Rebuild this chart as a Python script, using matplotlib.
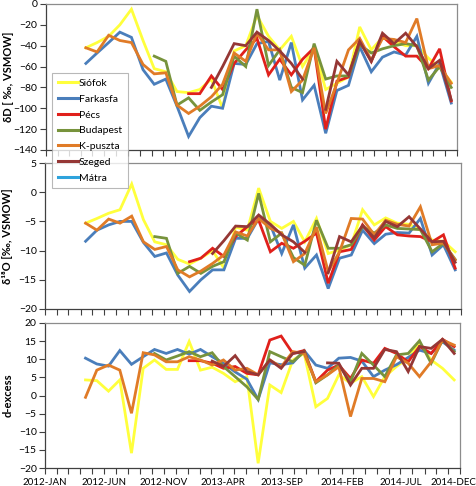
import numpy as np
import pandas as pd
import matplotlib
matplotlib.use("Agg")
import matplotlib.pyplot as plt
import matplotlib.transforms as mtrans
from matplotlib.ticker import FuncFormatter, MultipleLocator, FixedLocator
import matplotlib.dates as mdates

plt.rcParams['font.family'] = ['Lato', 'DejaVu Sans']

nan = np.nan

dates = ["2012-04-14", "2012-05-13", "2012-06-12", "2012-07-11", "2012-08-10", "2012-09-09",
         "2012-10-08", "2012-11-07", "2012-12-06", "2013-01-05", "2013-02-03", "2013-03-05",
         "2013-04-03", "2013-05-03", "2013-06-02", "2013-07-01", "2013-07-31", "2013-08-29",
         "2013-09-28", "2013-10-27", "2013-11-26", "2013-12-26", "2014-01-24", "2014-02-23",
         "2014-03-24", "2014-04-23", "2014-05-22", "2014-06-21", "2014-07-21", "2014-08-19",
         "2014-09-18", "2014-10-17", "2014-11-16"]

stations = ["Siófok", "Farkasfa", "Pécs", "Budapest", "K-puszta", "Szeged", "Mátra"]
colors = ["#FFFF3C", "#4A7EBB", "#E0201B", "#77933C", "#E07B27", "#953735", "#2EA3DC"]

# delta D
siofok_dD = [-42, -37, -31, -20, -5, -35, -62, -65, -84, -85, -82, -72, -100, -45, -40, -11, -31,
             -44, -31, -60, -42, -82, -76, -70, -22, -44, -32, -36, -40, -40, -52, -61, -75]
farkasfa_dD = [-57, -47, -37, -27, -32, -63, -77, -72, -98, -127, -109, -98, -100, -57, -58, -38, -36,
               -73, -37, -92, -78, -124, -83, -78, -41, -65, -51, -46, -49, -31, -76, -57, -95]
pecs_dD = [nan] * 9 + [-86, -86, -69, -82, -57, -44, -33, -68, -53, -68, -53, -42, -120, -74, -70,
                       -35, -55, -31, -41, -50, -50, -62, -43, -93]
budapest_dD = [nan] * 6 + [-50, -55, -97, -90, -102, -94, -87, -50, -60, -5, -59, -44, -80, -85, -38,
                           -72, -69, -69, -39, -47, -43, -40, -38, -40, -73, -60, -80]
kpuszta_dD = [-42, -46, -30, -35, -37, -58, -67, -66, -97, -105, -98, -89, -77, -47, -55, -28, -44,
              -44, -84, -73, -42, -105, -76, -44, -33, -54, -33, -34, -37, -14, -62, -59, -76]
szeged_dD = [nan] * 11 + [-80, -60, -38, -40, -27, -35, -45, -57, -72, nan, -101, -55, -68, -36, -55,
                          -28, -38, -28, -41, -62, -54, -92]
matra_dD = [nan] * 33

# delta 18O
siofok_d18O = [-5.3, -4.5, -3.6, -3.0, 1.4, -4.7, -8.5, -9.0, -11.5, -12.3, -11.3, -10.0, -13.0, -6.0,
               -6.5, 0.7, -5.0, -6.2, -5.0, -8.5, -4.5, -10.5, -9.9, -9.0, -3.0, -5.6, -4.4, -5.3,
               -5.5, -6.5, -8.2, -8.4, -10.2]
farkasfa_d18O = [-8.4, -6.5, -5.6, -5.0, -5.0, -8.6, -11.0, -10.4, -14.2, -17.0, -15.0, -13.3, -13.3,
                 -7.9, -7.9, -4.5, -5.6, -10.5, -5.6, -13.0, -10.75, -16.5, -11.3, -10.75, -6.5, -8.8,
                 -7.2, -6.9, -7.0, -4.5, -10.75, -9.0, -13.3]
pecs_d18O = [nan] * 9 + [-11.9, -11.3, -9.6, -11.0, -7.6, -5.9, -4.8, -10.2, -8.75, -9.6, -8.4, -7.0,
                         -15.6, -10.2, -9.8, -5.6, -8.2, -5.9, -7.3, -7.5, -7.6, -8.5, -7.3, -13.0]
budapest_d18O = [nan] * 6 + [-7.6, -7.9, -13.9, -12.7, -13.9, -12.7, -11.9, -7.0, -8.2, -0.2, -8.5,
                             -7.0, -11.2, -12.5, -4.8, -9.6, -9.6, -9.0, -5.9, -7.0, -5.6, -6.2, -6.3,
                             -6.4, -10.2, -8.75, -11.5]
kpuszta_d18O = [-5.3, -6.5, -4.6, -5.3, -4.1, -8.5, -9.8, -9.3, -13.3, -14.5, -13.5, -12.2, -10.75,
                -6.8, -7.5, -4.5, -6.2, -7.0, -11.9, -10.5, -6.0, -13.6, -10.2, -4.5, -4.6, -7.3,
                -4.8, -5.5, -5.8, -2.5, -9.0, -8.7, -11.6]
szeged_d18O = [nan] * 11 + [-10.5, -8.3, -5.8, -5.9, -3.9, -5.5, -7.3, -8.5, -10.3, nan, -13.8, -7.6,
                            -8.5, -5.7, -7.8, -5.0, -5.9, -4.2, -6.3, -8.5, -8.4, -12.0]
matra_d18O = [nan] * 33

# d-excess
siofok_d = [4.3, 4.1, 1.2, 4.3, -15.9, 7.5, 9.8, 7.2, 7.2, 14.9, 7.0, 7.8, 6.1, 3.8, 5.2, -18.7, 2.9,
            0.8, 9.8, 11.6, -3.1, -0.8, 5.7, 3.4, 5.2, -0.3, 5.2, 8.0, 10.3, 14.4, 9.8, 7.5, 4.3]
farkasfa_d = [10.3, 8.7, 8.1, 12.4, 8.6, 10.7, 12.7, 11.6, 12.7, 11.4, 12.7, 10.7, 8.9, 6.5, 4.5, -1.1,
              9.0, 8.5, 9.0, 12.4, 8.4, 7.5, 10.3, 10.5, 9.5, 5.2, 7.0, 8.5, 10.5, 12.5, 11.6, 14.8, 12.5]
pecs_d = [nan] * 9 + [9.6, 9.6, 8.9, 7.5, 8.0, 6.1, 5.7, 15.3, 16.4, 11.6, 12.4, 3.8, 7.0, 8.4, 4.7,
                      9.8, 8.9, 13.0, 11.6, 9.3, 13.5, 11.6, 15.5, 13.5]
budapest_d = [nan] * 6 + [11.6, 9.8, 10.9, 12.1, 10.7, 11.8, 8.0, 5.2, 2.4, -1.1, 12.1, 10.7, 9.3,
                          12.1, 3.5, 5.7, 8.4, 3.8, 11.6, 8.4, 5.2, 11.2, 11.6, 15.1, 8.9, 15.3, 12.1]
kpuszta_d = [-0.5, 7.0, 8.4, 7.0, -4.9, 11.8, 11.2, 9.3, 9.3, 10.7, 9.8, 8.4, 9.8, 7.0, 7.5, 5.7, 9.8,
             7.9, 12.1, 11.6, 3.8, 5.7, 7.9, -5.8, 4.7, 4.7, 3.8, 10.7, 8.9, 5.2, 9.3, 15.3, 13.9]
szeged_d = [nan] * 11 + [9.5, 8.0, 11.0, 6.6, 5.7, 9.8, 7.5, 11.6, 12.1, nan, 9.0, 8.9, 2.9, 7.5, 7.5,
                         12.7, 12.1, 6.6, 13.5, 13.0, 15.5, 11.6]
matra_d = [nan] * 33

dD = [siofok_dD, farkasfa_dD, pecs_dD, budapest_dD, kpuszta_dD, szeged_dD, matra_dD]
d18O = [siofok_d18O, farkasfa_d18O, pecs_d18O, budapest_d18O, kpuszta_d18O, szeged_d18O, matra_d18O]
dex = [siofok_d, farkasfa_d, pecs_d, budapest_d, kpuszta_d, szeged_d, matra_d]

x = pd.to_datetime(dates)

fig = plt.figure(figsize=(4.77, 4.86), dpi=100)
ax1 = fig.add_axes([0.0958, 0.6914, 0.8623, 0.3004])
ax2 = fig.add_axes([0.0943, 0.3642, 0.8722, 0.3004])
ax3 = fig.add_axes([0.0943, 0.0370, 0.8701, 0.2984])

xmin = pd.Timestamp("2012-01-01")
xmax = pd.Timestamp("2014-12-01")
major = pd.date_range(xmin, xmax, freq="5MS")
minor = pd.date_range(xmin, xmax, freq="MS")

def fmt(v, pos):
    d = mdates.num2date(v)
    return d.strftime("%Y-") + d.strftime("%b").upper()

lines = []
for ax, data, ylim, step in [(ax1, dD, (-140, 0), 20), (ax2, d18O, (-20, 5), 5), (ax3, dex, (-20, 20), 5)]:
    for name, col, vals in zip(stations, colors, data):
        ln, = ax.plot(x, vals, color=col, lw=2.0, label=name, solid_joinstyle='miter')
        if ax is ax1:
            lines.append(ln)
    ax.set_xlim(xmin, xmax)
    ax.set_ylim(*ylim)
    ax.yaxis.set_major_locator(MultipleLocator(step))
    ax.xaxis.set_major_locator(FixedLocator(mdates.date2num(major)))
    ax.xaxis.set_minor_locator(FixedLocator(mdates.date2num(minor)))
    ax.tick_params(axis='both', which='both', direction='out', length=4, width=0.8,
                   color='#404040', labelsize=7.5, pad=2)
    ax.tick_params(axis='x', which='both', labelsize=7, pad=3)
    for s in ['left', 'bottom']:
        ax.spines[s].set_color('#404040')
        ax.spines[s].set_linewidth(0.9)
    for s in ['top', 'right']:
        ax.spines[s].set_color('#8c8c8c')
        ax.spines[s].set_linewidth(0.9)
    if ax is ax3:
        ax.xaxis.set_major_formatter(FuncFormatter(fmt))
    else:
        ax.tick_params(axis='x', labelbottom=False)

ax1.set_ylabel("δD [ ‰, VSMOW]", fontsize=8, fontweight='bold')
ax2.set_ylabel("δ¹⁸O [‰, VSMOW]", fontsize=8, fontweight='bold')
ax3.set_ylabel("d-excess", fontsize=8, fontweight='bold')
for ax in (ax1, ax2, ax3):
    ax.yaxis.set_label_coords(-0.076, 0.5)

# keep the last date label inside the canvas
fig.canvas.draw()
last = ax3.get_xticklabels()[-1]
last.set_transform(last.get_transform() + mtrans.ScaledTranslation(-7 / 100, 0, fig.dpi_scale_trans))

leg = fig.legend(handles=lines, labels=stations, loc='upper left',
                 bbox_to_anchor=(52 / 477, 1 - 73 / 486), bbox_transform=fig.transFigure,
                 fontsize=7.5, frameon=True, fancybox=False, edgecolor='#a6a6a6',
                 handlelength=1.9, handletextpad=0.15, labelspacing=0.62,
                 borderpad=0.55, borderaxespad=0)
leg.get_frame().set_linewidth(0.8)
for h in leg.get_lines():
    h.set_linewidth(2.2)

fig.savefig("out.png", dpi=100)
